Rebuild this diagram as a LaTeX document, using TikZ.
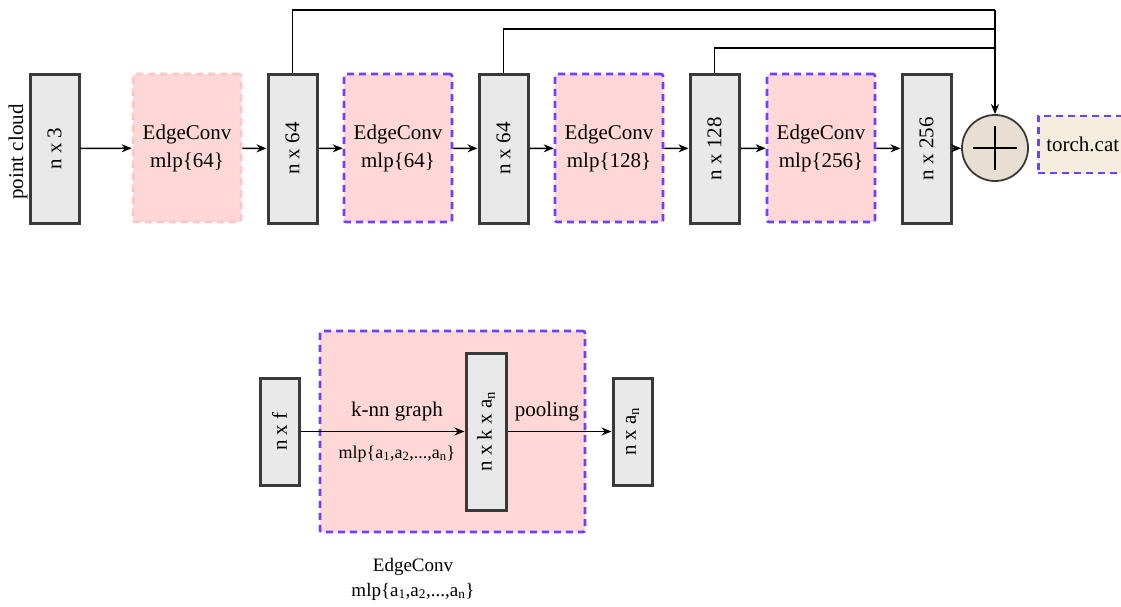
\documentclass[tikz,border=0pt]{standalone}
\usepackage{fontspec}
\setmainfont{Liberation Serif}
\usetikzlibrary{arrows.meta}
\definecolor{boxgray}{HTML}{E9E9E9}
\definecolor{boxline}{HTML}{3A3A3A}
\definecolor{convpink}{HTML}{FFD7D7}
\definecolor{convedge}{HTML}{FFC6C6}
\definecolor{dashblue}{HTML}{6E40FF}
\definecolor{sumfill}{HTML}{E8DFD2}
\definecolor{catfill}{HTML}{F3EEDD}

\begin{document}
\begin{tikzpicture}[x=1pt,y=-1pt,
  feat/.style={draw=boxline, fill=boxgray, line width=3pt, rectangle, inner sep=0pt, minimum width=49pt, minimum height=149pt},
  conv/.style={draw=dashblue, fill=convpink, line width=2.6pt, dash pattern=on 7pt off 5pt, rounded corners=2pt, inner sep=0pt, minimum width=108pt, minimum height=148pt, align=center, font=\fontsize{21}{28}\selectfont},
  link/.style={line width=1.5pt, -{Stealth[length=10pt,width=8pt]}},
  lbl/.style={rotate=90, font=\fontsize{21}{25}\selectfont}]
\useasboundingbox (0,0) rectangle (1121,606);
\clip (0,0) rectangle (1121,606);

\node[feat] (p3) at (54.5,148.5) {};
\node[lbl] at (p3) {n x 3};
\node[lbl] (pc) at (18,152) {point cloud};
\node[conv, draw=convedge] (ec1) at (187,148) {EdgeConv\\mlp\{64\}};
\node[feat] (f64a) at (292.5,148.5) {};
\node[lbl] at (f64a) {n x 64};
\node[conv] (ec2) at (398,148) {EdgeConv\\mlp\{64\}};
\node[feat] (f64b) at (503.5,148.5) {};
\node[lbl] at (f64b) {n x 64};
\node[conv] (ec3) at (609,148) {EdgeConv\\mlp\{128\}};
\node[feat] (f128) at (714.5,148.5) {};
\node[lbl] at (f128) {n x 128};
\node[conv] (ec4) at (821,148) {EdgeConv\\mlp\{256\}};
\node[feat] (f256) at (926.5,148.5) {};
\node[lbl] at (f256) {n x 256};
\node[draw=boxline, fill=sumfill, line width=1.8pt, circle, minimum size=66pt, inner sep=0pt] (sum) at (995,148) {};
\draw[line width=1.5pt] (sum.center) ++(-22,0) -- ++(44,0);
\draw[line width=1.5pt] (sum.center) ++(0,-22) -- ++(0,44);
\node[draw=dashblue, fill=catfill, line width=2.6pt, dash pattern=on 7pt off 5pt, anchor=west, minimum height=57pt, minimum width=110pt, inner sep=8pt, text width=94pt, font=\fontsize{21}{25}\selectfont] (cat) at (1037,144.5) {torch.cat};

\draw[link] (p3) -- (ec1);
\draw[link] (ec1) -- (f64a);
\draw[link] (f64a) -- (ec2);
\draw[link] (ec2) -- (f64b);
\draw[link] (f64b) -- (ec3);
\draw[link] (ec3) -- (f128);
\draw[link] (f128) -- (ec4);
\draw[link] (ec4) -- (f256);
\draw[link] (f256) -- (sum);

% skip connections into the concatenation
\coordinate (top1) at (995,10);
\coordinate (top2) at (995,29);
\coordinate (top3) at (995,48);
\draw[line width=1.5pt] (f64a.north) |- (top1);
\draw[line width=1.5pt] (f64b.north) |- (top2);
\draw[line width=1.5pt] (f128.north) |- (top3);
\draw[link] (top1) -- (sum.north);

% EdgeConv detail
\node[conv, minimum width=265pt, minimum height=201pt] (big) at (452.5,431.5) {};
\node[feat, minimum width=39pt, minimum height=107pt] (nf) at (279.5,431.5) {};
\node[lbl] at (nf) {n x f};
\node[feat, minimum width=40pt, minimum height=157pt] (nkx) at (486,431.5) {};
\node[lbl] at (nkx) {n x k x a\textsubscript{n}};
\node[feat, minimum width=39pt, minimum height=107pt] (na) at (632.5,431.5) {};
\node[lbl] at (na) {n x a\textsubscript{n}};
\draw[link] (nf) -- (nkx);
\draw[link] (nkx) -- (na);
\node[font=\fontsize{21}{25}\selectfont] (knn) at (397,411) {k-nn graph};
\node[font=\fontsize{18}{22}\selectfont] (mlp) at (397,454) {mlp\{a\textsubscript{1},a\textsubscript{2},...,a\textsubscript{n}\}};
\node[font=\fontsize{21}{25}\selectfont] (pool) at (547,411) {pooling};
\node[align=center, font=\fontsize{19}{25}\selectfont] (cap) at (413,579) {EdgeConv\\mlp\{a\textsubscript{1},a\textsubscript{2},...,a\textsubscript{n}\}};
\end{tikzpicture}
\end{document}
